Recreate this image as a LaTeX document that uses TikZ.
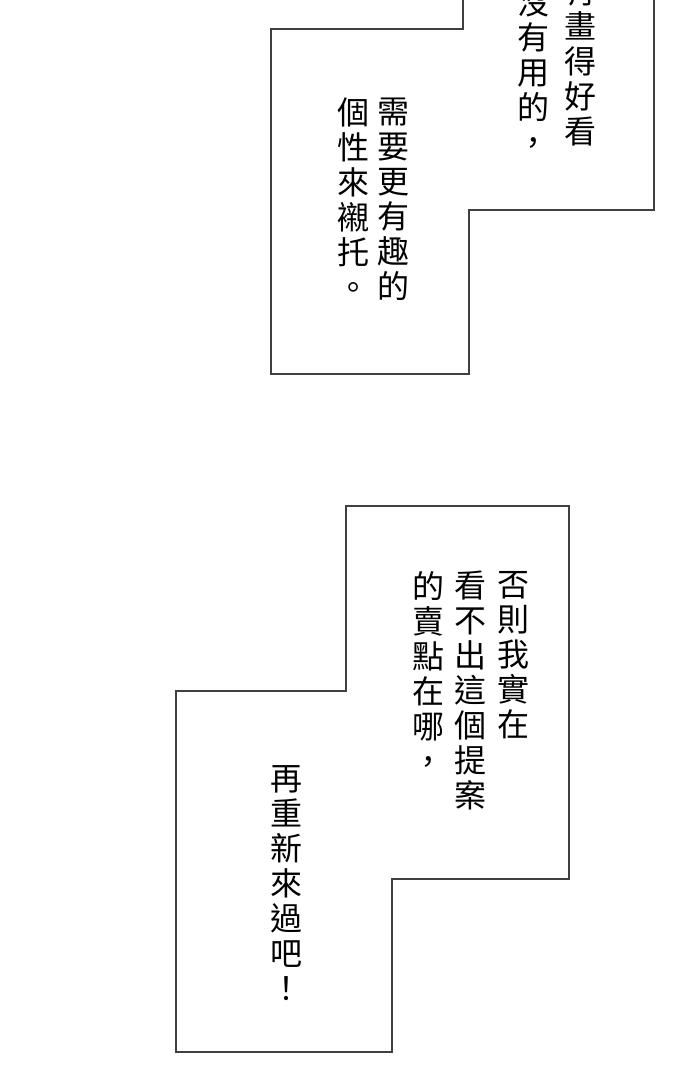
\documentclass[tikz,border=0pt]{standalone}
\usepackage{fontspec}
\newfontfamily\cjk{Noto Sans CJK TC}
\tikzset{
  panel/.style={line width=1.2pt, draw=black!75},
  vcol/.style={anchor=north, inner sep=0pt, align=center, text width=1em,
    font=\cjk\fontsize{32}{35}\selectfont}
}
\begin{document}
\begin{tikzpicture}[x=1pt,y=-1pt]
  \useasboundingbox (0,0) rectangle (700,1091);
  \clip (0,0) rectangle (700,1091);
  % upper box
  \draw[panel] (463,-5) -- (463,29) -- (271,29) -- (271,374) -- (469,374)
    -- (469,210) -- (654,210) -- (654,-5);
  \node[vcol] (t1) at (569,-24) {有\\畫\\得\\好\\看};
  \node[vcol] (t2) at (522,-13) {沒\\有\\用\\的\\，};
  \node[vcol] (t3) at (382,98) {需\\要\\更\\有\\趣\\的};
  \node[vcol] (t4) at (342,98) {個\\性\\來\\襯\\托\\。};
  % lower box
  \draw[panel] (346,506) -- (569,506) -- (569,879) -- (392,879) -- (392,1052)
    -- (176,1052) -- (176,691) -- (346,691) -- cycle;
  \node[vcol] (b1) at (502,571) {否\\則\\我\\實\\在};
  \node[vcol] (b2) at (459,571) {看\\不\\出\\這\\個\\提\\案};
  \node[vcol] (b3) at (417,571) {的\\賣\\點\\在\\哪\\，};
  \node[vcol] (b4) at (275,765) {再\\重\\新\\來\\過\\吧\\！};
\end{tikzpicture}
\end{document}
